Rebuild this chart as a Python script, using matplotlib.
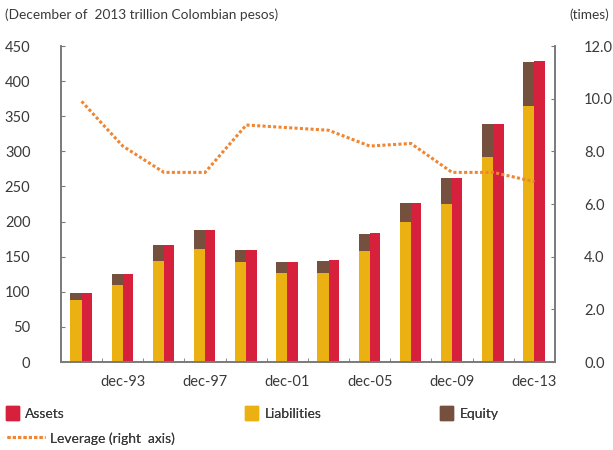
import numpy as np
import matplotlib
matplotlib.use("Agg")
from matplotlib import pyplot as plt
from matplotlib.patches import Patch
from matplotlib.lines import Line2D

plt.rcParams['font.family'] = ['Lato', 'DejaVu Sans']

# balance sheet, trillions of 2013 pesos, and leverage (times)
periods = ['dec-91', 'dec-93', 'dec-95', 'dec-97', 'dec-99', 'dec-01',
           'dec-03', 'dec-05', 'dec-07', 'dec-09', 'dec-11', 'dec-13']
assets = [98, 125, 167, 188, 160, 142, 145, 184, 226, 262, 339, 429]
liabilities = [88, 110, 144, 161, 143, 127, 127, 158, 199, 225, 292, 365]
equity = [10, 15, 23, 27, 17, 15, 17, 24, 27, 37, 47, 62]
leverage = [9.9, 8.2, 7.2, 7.2, 9.0, 8.9, 8.8, 8.2, 8.3, 7.2, 7.2, 6.85]

c_assets = '#D7203B'
c_liab = '#EBB011'
c_equity = '#76503F'
c_lev = '#EF8633'
c_spine = '#7a7a7a'
c_text = '#3a3a3a'

fig = plt.figure(figsize=(6.13, 4.5), dpi=100)
ax = fig.add_axes([61/613, 1-362/450, (555-61)/613, (362-46)/450])
x = np.arange(len(periods))

ax.bar(x - 0.135, liabilities, width=0.27, color=c_liab, zorder=2)
ax.bar(x - 0.135, equity, width=0.27, bottom=liabilities, color=c_equity, zorder=2)
ax.bar(x + 0.125, assets, width=0.25, color=c_assets, zorder=2)

ax.set_xlim(-0.5, len(periods) - 0.5)
ax.set_ylim(0, 450)
ax.set_yticks(np.arange(0, 451, 50))
ax.set_xticks(x[1::2])
ax.set_xticklabels(periods[1::2])
ax.set_xticks(np.arange(0.5, len(periods), 1.0), minor=True)

ax2 = ax.twinx()
ax2.plot(x, leverage, color=c_lev, lw=2.2, dashes=(1.0, 0.75), solid_capstyle='butt')
ax2.set_ylim(0, 12)
ax2.set_yticks(np.arange(0, 12.1, 2))
ax2.set_yticklabels(['%.1f' % v for v in np.arange(0, 12.1, 2)])

for a in (ax, ax2):
    a.spines['top'].set_visible(False)
    for s in ('left', 'right', 'bottom'):
        a.spines[s].set_color(c_spine)
        a.spines[s].set_linewidth(1.4)
ax.spines['right'].set_visible(False)
ax2.spines['left'].set_visible(False)
ax2.spines['bottom'].set_visible(False)

ax.tick_params(axis='y', direction='in', length=3, color=c_spine, pad=22,
               labelsize=10.5, labelcolor=c_text)
ax.tick_params(axis='x', which='major', length=0, pad=9, labelsize=10.5, labelcolor=c_text)
ax.tick_params(axis='x', which='minor', direction='in', length=3, color=c_spine)
ax2.tick_params(axis='y', direction='in', length=3, color=c_spine, pad=21,
                labelsize=10.5, labelcolor=c_text)

fig.text(5/613, 1-15/450, '(December of  2013 trillion Colombian pesos)',
         fontsize=9.8, color=c_text, va='center', ha='left')
fig.text(609/613, 1-15/450, '(times)', fontsize=9.8, color=c_text,
         va='center', ha='right')


def legend_item(handle, label, x0, yc, length, textpad):
    leg = fig.legend([handle], [label], loc='center left',
                     bbox_to_anchor=(x0/613, 1-yc/450), frameon=False,
                     fontsize=10, handlelength=length, handleheight=1.15,
                     handletextpad=textpad, borderpad=0, borderaxespad=0)
    leg.get_texts()[0].set_color(c_text)
    fig.add_artist(leg)


legend_item(Patch(color=c_assets), 'Assets', 6, 413, 0.94, 0.45)
legend_item(Patch(color=c_liab), 'Liabilities', 245, 413, 0.94, 0.45)
legend_item(Patch(color=c_equity), 'Equity', 440, 413, 0.94, 0.45)
legend_item(Line2D([0], [0], color=c_lev, lw=2.2, dashes=(1.0, 0.75)),
            'Leverage (right  axis)', 7, 438, 2.7, 0.4)

fig.savefig('out.png', dpi=100)
